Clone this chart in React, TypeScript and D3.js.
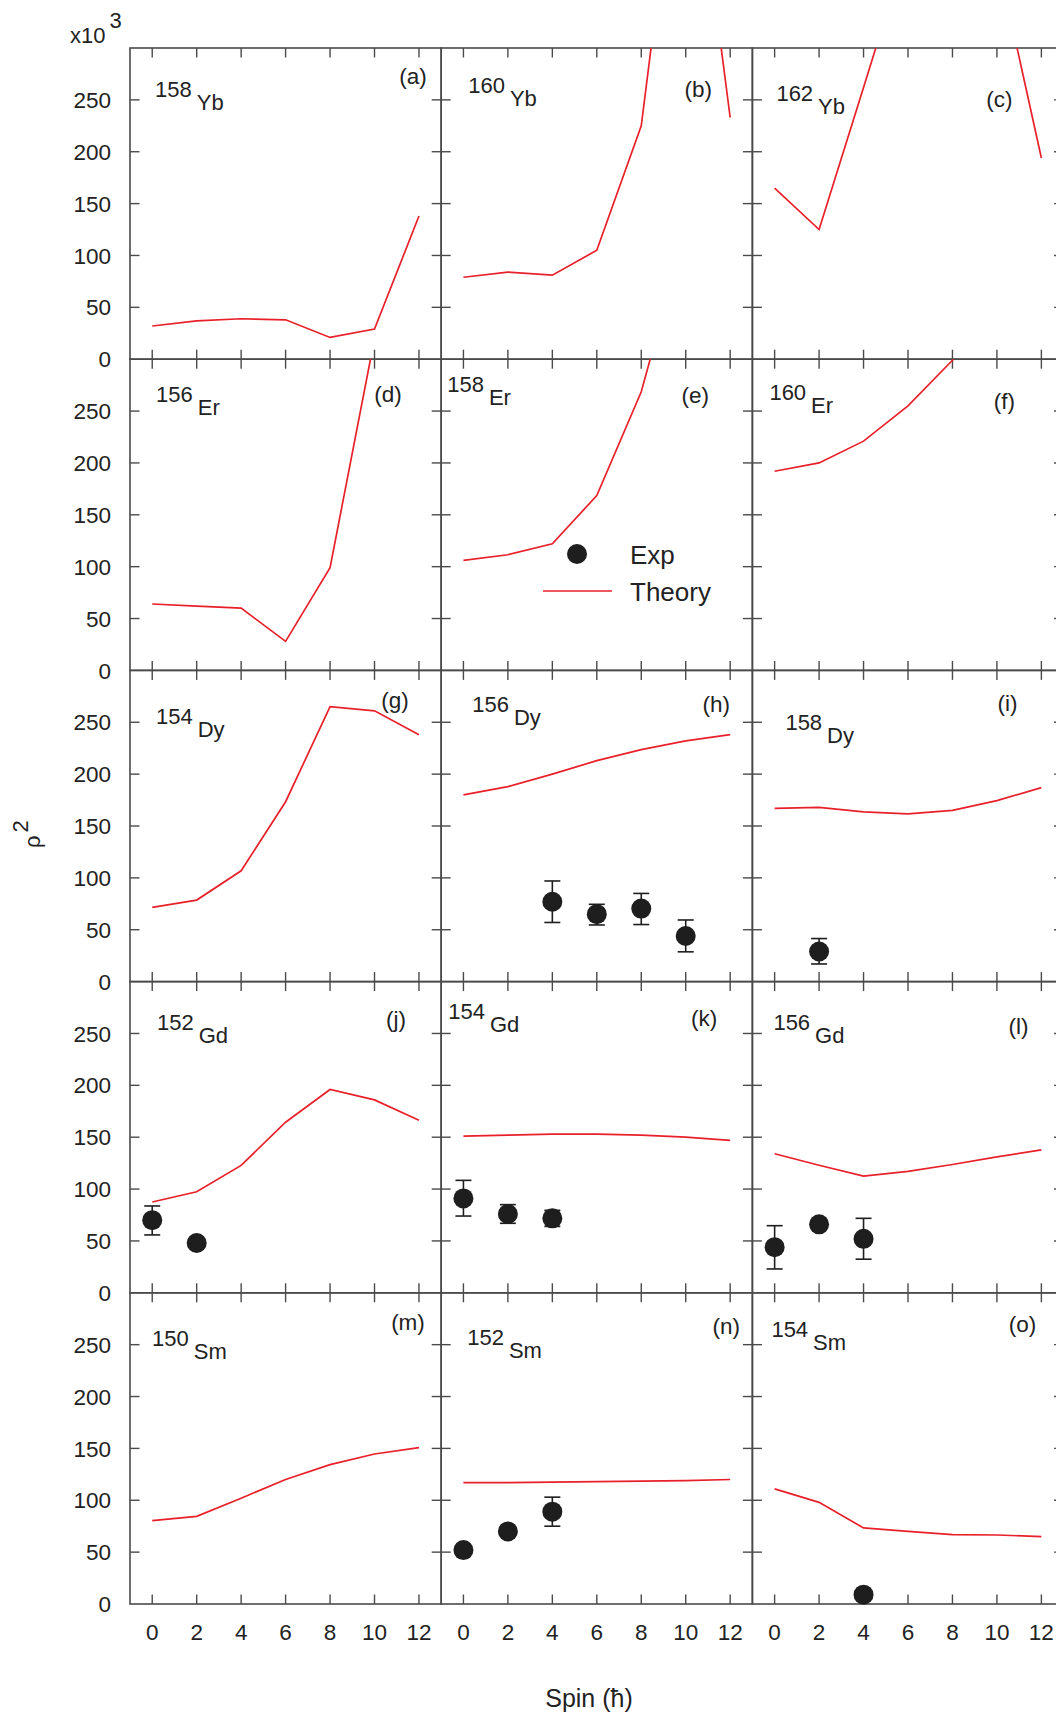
import React from 'react';
import * as d3 from 'd3';

// spin values (hbar) shared by every panel
const spins = [0, 2, 4, 6, 8, 10, 12];
const yTickValues = [0, 50, 100, 150, 200, 250];

// theory curves, rho^2 in units of 10^3
const theory158Yb = [32, 37, 39, 38, 21, 29, 138];
const theory160Yb = [79, 84, 81, 105, 225, 565, 233];
const theory162Yb = [165, 125, 262, 400, 450, 388, 194];
const theory156Er = [64, 62, 60, 28, 99, 320, 400];
const theory158Er = [106, 111.5, 122, 168.6, 268.6, 425, 500];
const theory160Er = [192, 200, 221, 255, 299, 350, 400];
const theory154Dy = [71.5, 78.6, 106.8, 173.4, 265, 261, 238];
const theory156Dy = [180, 188, 200, 213, 223.6, 232, 238];
const theory158Dy = [167, 168, 163.6, 161.7, 165, 174.5, 187];
const theory152Gd = [87.5, 97.4, 122.8, 164.4, 196, 186, 166.3];
const theory154Gd = [151, 152, 153, 153, 152, 150, 147];
const theory156Gd = [134, 123, 112.5, 117, 123.7, 131, 137.8];
const theory150Sm = [80.3, 84.5, 102, 120, 134.3, 144.6, 150.7];
const theory152Sm = [117, 117, 117.5, 118, 118.5, 119, 120];
const theory154Sm = [111, 98, 73.3, 70, 66.8, 66.5, 65];

// experimental points: [spin, value, low, high]
type ExpPoint = [number, number, number?, number?];
const exp156Dy: ExpPoint[] = [[4, 77, 57, 97], [6, 65, 54.6, 74.5], [8, 70.4, 55, 85], [10, 44, 28.7, 59.4]];
const exp158Dy: ExpPoint[] = [[2, 29, 17, 41.5]];
const exp152Gd: ExpPoint[] = [[0, 70, 55.8, 83.7], [2, 48]];
const exp154Gd: ExpPoint[] = [[0, 91, 74, 108.4], [2, 76, 67, 85], [4, 71.8, 64, 79.5]];
const exp156Gd: ExpPoint[] = [[0, 44, 23, 64.7], [2, 66], [4, 52, 32.4, 71.8]];
const exp152Sm: ExpPoint[] = [[0, 52], [2, 70], [4, 89, 75, 103]];
const exp154Sm: ExpPoint[] = [[4, 9]];

const masses = ['158', '160', '162', '156', '158', '160', '154', '156', '158', '152', '154', '156', '150', '152', '154'];
const symbols = ['Yb', 'Yb', 'Yb', 'Er', 'Er', 'Er', 'Dy', 'Dy', 'Dy', 'Gd', 'Gd', 'Gd', 'Sm', 'Sm', 'Sm'];
const tags = ['a', 'b', 'c', 'd', 'e', 'f', 'g', 'h', 'i', 'j', 'k', 'l', 'm', 'n', 'o'];
const theories = [
  theory158Yb, theory160Yb, theory162Yb,
  theory156Er, theory158Er, theory160Er,
  theory154Dy, theory156Dy, theory158Dy,
  theory152Gd, theory154Gd, theory156Gd,
  theory150Sm, theory152Sm, theory154Sm,
];
const exps: ExpPoint[][] = [
  [], [], [],
  [], [], [],
  [], exp156Dy, exp158Dy,
  exp152Gd, exp154Gd, exp156Gd,
  [], exp152Sm, exp154Sm,
];

// label placement inside each panel (layout only)
const nucleusPos = [
  [25, 49], [27, 45], [24, 53],
  [26, 43], [6, 33], [17, 41],
  [26, 54], [31, 42], [33, 60],
  [27, 48], [7, 37], [21, 48],
  [22, 53], [26, 52], [19, 44],
];
const tagPos = [
  [283, 36], [257, 49], [247, 59],
  [258, 43], [254, 44], [252, 50],
  [265, 38], [275, 42], [255, 41],
  [266, 45], [263, 44], [266, 52],
  [278, 37], [285, 41], [270, 39],
];

const W = 1056;
const H = 1714;
const left0 = 130;
const top0 = 48;
const size = 311.2;
const font = '"Liberation Sans", Arial, Helvetica, sans-serif';
const axisColor = '#4a4a4a';
const red = '#e8202a';
const ink = '#1e1e1e';

export default function App() {
  const x = d3.scaleLinear().domain([-1, 13]).range([0, size]);
  const y = d3.scaleLinear().domain([0, 300]).range([size, 0]);
  const line = d3.line<number>().x((_, i) => x(spins[i])).y(d => y(d));
  const tick = 9.5;

  const panels = theories.map((th, p) => {
    const col = p % 3;
    const row = Math.floor(p / 3);
    const px = left0 + col * size;
    const py = top0 + row * size;
    return (
      <g key={p} transform={`translate(${px},${py})`}>
        <defs>
          <clipPath id={`clip${p}`}>
            <rect x={0} y={0} width={size} height={size} />
          </clipPath>
        </defs>
        {/* ticks */}
        {spins.map(s => (
          <g key={`xt${s}`} stroke={axisColor} strokeWidth={1.4}>
            <line x1={x(s)} x2={x(s)} y1={0} y2={tick} />
            <line x1={x(s)} x2={x(s)} y1={size} y2={size - tick} />
          </g>
        ))}
        {yTickValues.filter(v => v > 0).map(v => (
          <g key={`yt${v}`} stroke={axisColor} strokeWidth={1.4}>
            <line x1={0} x2={tick} y1={y(v)} y2={y(v)} />
            <line x1={size} x2={size - tick} y1={y(v)} y2={y(v)} />
          </g>
        ))}
        <rect x={0} y={0} width={size} height={size} fill="none" stroke={axisColor} strokeWidth={1.6} />
        {/* theory */}
        <path d={line(th) || ''} fill="none" stroke={red} strokeWidth={1.7} clipPath={`url(#clip${p})`} />
        {/* experiment */}
        {exps[p].map(([s, v, lo, hi], k) => (
          <g key={`e${k}`}>
            {lo !== undefined && hi !== undefined && (
              <g stroke={ink} strokeWidth={1.6}>
                <line x1={x(s)} x2={x(s)} y1={y(lo)} y2={y(hi)} />
                <line x1={x(s) - 8} x2={x(s) + 8} y1={y(lo)} y2={y(lo)} />
                <line x1={x(s) - 8} x2={x(s) + 8} y1={y(hi)} y2={y(hi)} />
              </g>
            )}
            <circle cx={x(s)} cy={y(v)} r={10} fill={ink} />
          </g>
        ))}
        {/* labels */}
        <text x={nucleusPos[p][0]} y={nucleusPos[p][1]} fontSize={22} fill="#222" fontFamily={font}>
          {masses[p]}
          <tspan dx={5} dy={13}>{symbols[p]}</tspan>
        </text>
        <text x={tagPos[p][0]} y={tagPos[p][1]} fontSize={22.5} fill="#222" fontFamily={font} textAnchor="middle">
          {`(${tags[p]})`}
        </text>
      </g>
    );
  });

  const rows = [0, 1, 2, 3, 4];
  const cols = [0, 1, 2];

  return (
    <div style={{ position: 'absolute', left: 0, top: 0, background: '#fff' }}>
      <svg width={W} height={H} viewBox={`0 0 ${W} ${H}`} style={{ display: 'block' }}>
        <rect x={0} y={0} width={W} height={H} fill="#fff" />
        {panels}
        {/* y tick labels */}
        {rows.map(r =>
          yTickValues.map(v => (
            <text key={`yl${r}-${v}`} x={111} y={top0 + r * size + y(v)} dy="0.36em" textAnchor="end"
              fontSize={22.5} fill="#222" fontFamily={font}>{v}</text>
          ))
        )}
        {/* x tick labels */}
        {cols.map(c =>
          spins.map(s => (
            <text key={`xl${c}-${s}`} x={left0 + c * size + x(s)} y={1640} textAnchor="middle"
              fontSize={22.5} fill="#222" fontFamily={font}>{s}</text>
          ))
        )}
        {/* multiplier */}
        <text x={70} y={43} fontSize={22} fill="#222" fontFamily={font}>
          x10<tspan dx={4} dy={-15}>3</tspan>
        </text>
        {/* axis titles */}
        <text transform="translate(40,848) rotate(-90)" fontSize={22} fill="#222" fontFamily={font}>
          ρ<tspan dx={3} dy={-12}>2</tspan>
        </text>
        <text x={589} y={1707} textAnchor="middle" fontSize={25} fill="#222" fontFamily={font}>Spin (ħ)</text>
        {/* legend inside panel (e) */}
        <circle cx={577} cy={554} r={10} fill={ink} />
        <text x={630} y={564} fontSize={26} fill="#222" fontFamily={font}>Exp</text>
        <line x1={543} x2={612} y1={591} y2={591} stroke={red} strokeWidth={1.7} />
        <text x={630} y={601} fontSize={26} fill="#222" fontFamily={font}>Theory</text>
      </svg>
    </div>
  );
}
